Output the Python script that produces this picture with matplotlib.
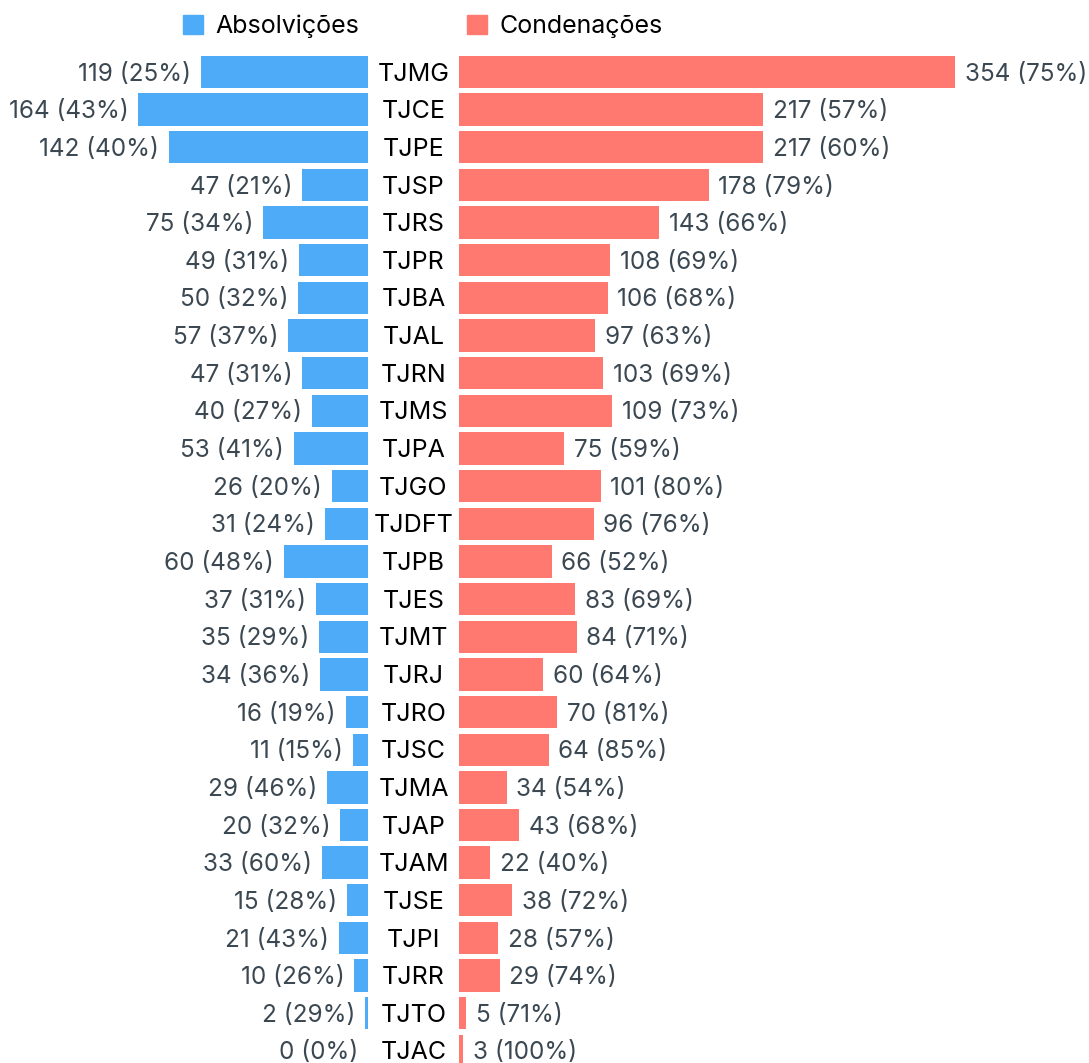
import matplotlib
matplotlib.use("Agg")
import matplotlib.pyplot as plt
import matplotlib.transforms as mtransforms
from matplotlib.patches import Patch

plt.rcParams['font.family'] = ['Inter', 'DejaVu Sans']

tribunais = ['TJMG', 'TJCE', 'TJPE', 'TJSP', 'TJRS', 'TJPR', 'TJBA', 'TJAL', 'TJRN',
             'TJMS', 'TJPA', 'TJGO', 'TJDFT', 'TJPB', 'TJES', 'TJMT', 'TJRJ', 'TJRO',
             'TJSC', 'TJMA', 'TJAP', 'TJAM', 'TJSE', 'TJPI', 'TJRR', 'TJTO', 'TJAC']
absolvicoes = [119, 164, 142, 47, 75, 49, 50, 57, 47, 40, 53, 26, 31, 60, 37, 35, 34,
               16, 11, 29, 20, 33, 15, 21, 10, 2, 0]
condenacoes = [354, 217, 217, 178, 143, 108, 106, 97, 103, 109, 75, 101, 96, 66, 83,
               84, 60, 70, 64, 34, 43, 22, 38, 28, 29, 5, 3]

azul = '#4dabf7'
vermelho = '#ff7970'
cor_texto = '#3b4852'
fs = 18

W, H = 1089, 1063
fig = plt.figure(figsize=(W / 100, H / 100), dpi=100)

px = 1.402  # pixels per unit
ax_l = fig.add_axes([0, 0, 368 / W, 1])
ax_r = fig.add_axes([459 / W, 0, 1 - 459 / W, 1])

y = list(range(len(tribunais)))
ax_l.barh(y, absolvicoes, height=0.86, color=azul, label='Absolvições')
ax_r.barh(y, condenacoes, height=0.86, color=vermelho, label='Condenações')

ylim = ((H - 72) / 37.65, -72 / 37.65)
for ax in (ax_l, ax_r):
    ax.set_ylim(*ylim)
    ax.axis('off')
ax_l.set_xlim(368 / px, 0)
ax_r.set_xlim(0, (W - 459) / px)

for i, (a, c) in enumerate(zip(absolvicoes, condenacoes)):
    tot = a + c
    pa = round(100 * a / tot)
    pc = round(100 * c / tot)
    ax_l.annotate(f'{a} ({pa}%)', (a, i), xytext=(-7, -1.5), textcoords='offset points',
                  ha='right', va='center', fontsize=17.5, color=cor_texto)
    ax_r.annotate(f'{c} ({pc}%)', (c, i), xytext=(7, -1.5), textcoords='offset points',
                  ha='left', va='center', fontsize=17.5, color=cor_texto)

trans = mtransforms.blended_transform_factory(fig.transFigure, ax_r.transData)
off = mtransforms.ScaledTranslation(0, -1.5 / 72, fig.dpi_scale_trans)
for i, t in enumerate(tribunais):
    fig.text(413.5 / W, i, t, transform=trans + off, ha='center', va='center',
             fontsize=fs, color='black')

handles = [Patch(color=azul, label='Absolvições'), Patch(color=vermelho, label='Condenações')]
fig.legend(handles=handles, ncol=2, loc='center', bbox_to_anchor=(423 / W, 1 - 26 / H),
           frameon=False, fontsize=fs, handlelength=0.8, handleheight=0.8,
           handletextpad=0.5, columnspacing=4.3)

fig.savefig('out.png', dpi=100)
